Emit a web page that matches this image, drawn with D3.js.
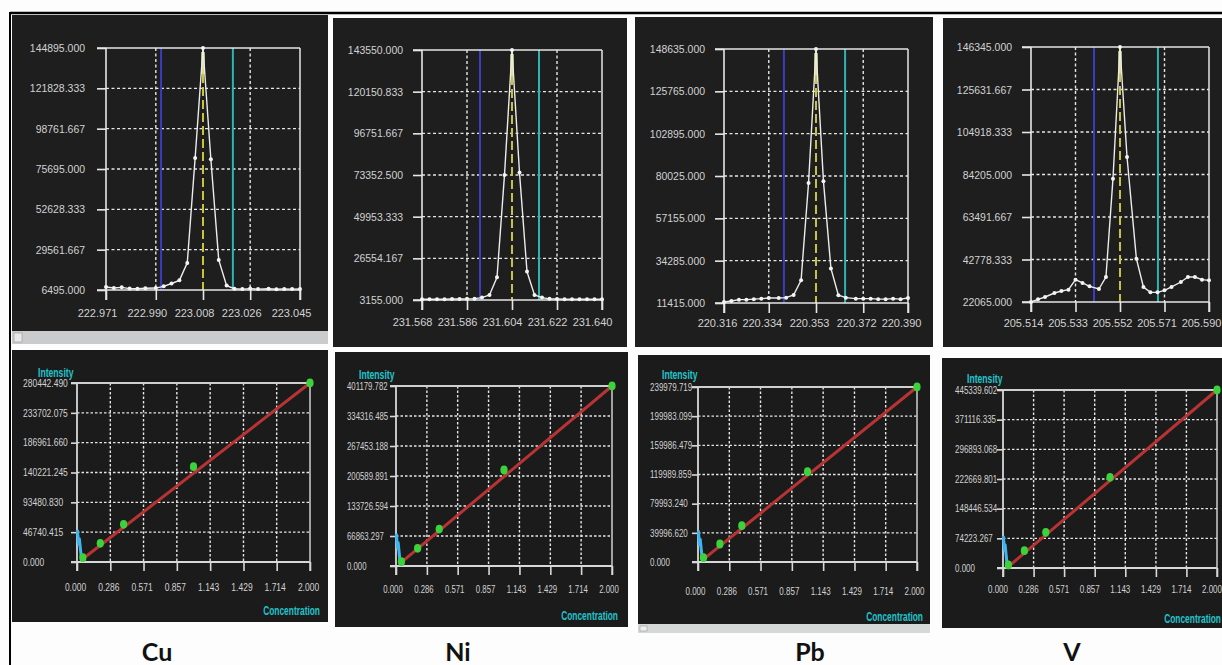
<!DOCTYPE html>
<html><head><meta charset="utf-8">
<script src="https://cdn.jsdelivr.net/npm/d3@7"></script>
<style>body{margin:0;background:#fff}svg{display:block}</style>
</head><body><svg id="c" width="1222" height="665"></svg>
<script>
// ---------- DATA ----------
const elements = ["Cu", "Ni", "Pb", "V"];

// Emission spectra (top row)
const cuWave = [222.971,222.974,222.977,222.980,222.983,222.986,222.990,222.993,222.996,222.999,223.002,223.005,223.008,223.011,223.014,223.017,223.020,223.023,223.026,223.029,223.033,223.036,223.039,223.042,223.045];
const cuSpec = [8200,7600,8000,7300,7200,7500,7600,8600,10200,12000,22000,82000,144895,81300,23700,9000,7200,7000,7300,7000,7200,6900,7100,7000,7100];
const cuWaveTicks = [222.971,222.990,223.008,223.026,223.045];
const cuSpecTicks = [6495,29561.667,52628.333,75695,98761.667,121828.333,144895];
const cuWindow = [222.992,223.0194];

const niWave = [231.568,231.571,231.574,231.577,231.580,231.583,231.586,231.589,231.592,231.595,231.598,231.601,231.604,231.607,231.610,231.613,231.616,231.619,231.622,231.625,231.628,231.631,231.634,231.637,231.640];
const niSpec = [3600,3600,3600,3600,3700,3700,3800,3900,4500,6000,15900,73400,143550,74700,19100,6000,4500,3800,3700,3600,3600,3600,3600,3600,3600];
const niWaveTicks = [231.568,231.586,231.604,231.622,231.640];
const niSpecTicks = [3155,26554.167,49953.333,73352.5,96751.667,120150.833,143550];
const niWindow = [231.5912,231.6148];

const pbWave = [220.316,220.319,220.322,220.325,220.328,220.331,220.334,220.338,220.341,220.344,220.347,220.350,220.353,220.356,220.359,220.362,220.365,220.369,220.372,220.375,220.378,220.381,220.384,220.387,220.390];
const pbSpec = [11960,12500,13225,13225,13500,13770,14130,14130,14310,15760,23720,76220,148635,77130,30060,15580,14310,13770,13770,13770,13500,13500,13770,13500,14130];
const pbWaveTicks = [220.316,220.334,220.353,220.372,220.390];
const pbSpecTicks = [11415,34285,57155,80025,102895,125765,148635];
const pbWindow = [220.3401,220.3647];

const vWave = [205.514,205.517,205.520,205.524,205.527,205.530,205.533,205.536,205.539,205.543,205.546,205.549,205.552,205.555,205.559,205.562,205.565,205.568,205.571,205.574,205.578,205.581,205.584,205.587,205.590];
const vSpec = [22065,23360,24500,26450,27430,28080,32950,31330,29700,28400,34250,82170,146345,92740,43180,29380,26780,26780,27750,29380,31810,34250,34250,32950,32620];
const vWaveTicks = [205.514,205.533,205.552,205.571,205.590];
const vSpecTicks = [22065,42778.333,63491.667,84205,104918.333,125631.667,146345];
const vWindow = [205.5409,205.5682];

// Calibration curves (bottom row)
const stdConc = [0.05, 0.2, 0.4, 1.0, 2.0];
const concTicks = [0, 0.286, 0.571, 0.857, 1.143, 1.429, 1.714, 2.000];
const cuInt = [6700, 29300, 59070, 149300, 280442.49];
const niInt = [9600, 39400, 82400, 214000, 401179.782];
const pbInt = [5900, 24700, 49800, 123800, 239979.719];
const vInt = [7500, 43300, 89300, 226900, 445339.602];
const cuIntTicks = [0, 46740.415, 93480.830, 140221.245, 186961.660, 233702.075, 280442.490];
const niIntTicks = [0, 66863.297, 133726.594, 200589.891, 267453.188, 334316.485, 401179.782];
const pbIntTicks = [0, 39996.620, 79993.240, 119989.859, 159986.479, 199983.099, 239979.719];
const vIntTicks = [0, 74223.267, 148446.534, 222669.801, 296893.068, 371116.335, 445339.602];
const cuFit = [[0.04, 3500], [2.0, 280442.49]];
const niFit = [[0.03, 4000], [2.0, 401179.782]];
const pbFit = [[0.04, 2500], [2.0, 239979.719]];
const vFit = [[0.05, 3500], [2.0, 445339.602]];
// cursor marker near origin (conc, fraction of axis max)
const cursorShape = [[0.003, 0.18], [0.014, 0.10], [0.02, 0.13], [0.038, 0.02]];

// ---------- DRAW ----------
const svg = d3.select('#c');
const LINE = '#e6e6e6';
const TXT = '#d2d2d2';
const CYAN = '#22c4cc';
const fmt3 = d3.format('.3f');
const SANS = "'Liberation Sans',Arial,sans-serif";

svg.append('rect').attr('x',0).attr('y',0).attr('width',1222).attr('height',665).attr('fill','#fdfdfd');

function hline(g, x1, x2, yv, stroke, w, dash) {
  const l = g.append('line').attr('x1',x1).attr('x2',x2).attr('y1',yv).attr('y2',yv)
    .attr('stroke',stroke).attr('stroke-width',w);
  if (dash) l.attr('stroke-dasharray',dash);
  return l;
}
function vline(g, xv, y1, y2, stroke, w, dash) {
  const l = g.append('line').attr('x1',xv).attr('x2',xv).attr('y1',y1).attr('y2',y2)
    .attr('stroke',stroke).attr('stroke-width',w);
  if (dash) l.attr('stroke-dasharray',dash);
  return l;
}

function drawSpectrum(p) {
  const g = svg.append('g');
  g.append('rect').attr('x',p.bg[0]).attr('y',p.bg[1]).attr('width',p.bg[2]-p.bg[0]).attr('height',p.bg[3]-p.bg[1]).attr('fill','#1e1e1e');
  if (p.strip) {
    g.append('rect').attr('x',p.bg[0]).attr('y',p.bg[3]).attr('width',p.bg[2]-p.bg[0]).attr('height',p.strip).attr('fill','#c9cbcc');
    g.append('rect').attr('x',p.bg[0]+2).attr('y',p.bg[3]+2).attr('width',8).attr('height',p.strip-4).attr('fill','#e8e8e8').attr('stroke','#999').attr('stroke-width',0.6);
  }
  const x = d3.scaleLinear().domain([p.wt[0], p.wt[p.wt.length-1]]).range([p.x0, p.x1]);
  const y = d3.scaleLinear().domain([p.yt[0], p.yt[p.yt.length-1]]).range([p.yb, p.ytop]);
  p.yt.slice(1,-1).forEach(v => hline(g, p.x0, p.x1, y(v), LINE, 1.4, '3,2.5'));
  [p.wt[1], p.wt[3]].forEach(v => vline(g, x(v), p.ytop, p.yb, LINE, 1.4, '3,2.5'));
  vline(g, x(p.win[0]), p.ytop, p.yb, '#3c3cc0', 2);
  vline(g, x(p.win[1]), p.ytop, p.yb, '#2eb4b4', 2);
  vline(g, x(p.wt[2]), p.ytop, p.yb, '#c9c23c', 2, '9,4');
  vline(g, x(p.wt[2]), p.ytop+4, p.ytop+26, '#d8dc80', 3.5);
  hline(g, p.x0-9, p.x1, p.ytop, LINE, 1.6);
  vline(g, p.x1, p.ytop, p.yb+10, LINE, 1.5);
  const ya = g.append('g').attr('transform', `translate(${p.x0},0)`)
    .call(d3.axisLeft(y).tickValues(p.yt).tickFormat(fmt3).tickSize(9).tickPadding(p.x0 - 9 - p.labelRight));
  const xa = g.append('g').attr('transform', `translate(0,${p.yb})`)
    .call(d3.axisBottom(x).tickValues(p.wt).tickFormat(fmt3).tickSize(10));
  [ya, xa].forEach(a => {
    a.select('.domain').attr('stroke', LINE).attr('stroke-width',1.6);
    a.selectAll('.tick line').attr('stroke', LINE).attr('stroke-width',1.6);
    a.selectAll('.tick text').attr('fill', TXT).attr('font-family', SANS).attr('font-size',11);
  });
  ya.select('.domain').attr('d', `M0,${p.ytop}V${p.yb+10}`);
  xa.select('.domain').attr('d', `M${p.x0-9},0H${p.x1}`);
  ya.selectAll('.tick text').attr('transform','scale(0.95,1)').attr('x', -(p.x0 - p.labelRight)/0.95);
  xa.selectAll('.tick text').attr('y', p.xLabelY - p.yb).attr('dy', 0).attr('dx', p.dx);
  const pts = p.w.map((w,i) => [w, p.s[i]]);
  g.append('path').datum(pts).attr('fill','none').attr('stroke','#ececec').attr('stroke-width',1.4)
    .attr('d', d3.line().x(d => x(d[0])).y(d => y(d[1])));
  g.selectAll('.pt').data(pts).join('circle').attr('cx', d => x(d[0])).attr('cy', d => y(d[1])).attr('r', 2).attr('fill','#f4f4f4');
}

function drawCalib(p) {
  const g = svg.append('g');
  g.append('rect').attr('x',p.bg[0]).attr('y',p.bg[1]).attr('width',p.bg[2]-p.bg[0]).attr('height',p.bg[3]-p.bg[1]).attr('fill','#1b1b1b');
  if (p.strip) {
    g.append('rect').attr('x',p.bg[0]).attr('y',p.bg[3]).attr('width',p.bg[2]-p.bg[0]).attr('height',p.strip).attr('fill','#d6d8d8');
    g.append('rect').attr('x',p.bg[0]+2).attr('y',p.bg[3]+2).attr('width',7).attr('height',p.strip-4).attr('fill','#eee').attr('stroke','#999').attr('stroke-width',0.6);
  }
  const K = p.k;
  const T = 6;
  const x = d3.scaleLinear().domain([concTicks[0], concTicks[concTicks.length-1]]).range([p.x0, p.x1]);
  const y = d3.scaleLinear().domain([p.yt[0], p.yt[p.yt.length-1]]).range([p.yb, p.ytop]);
  p.yt.slice(1,-1).forEach(v => hline(g, p.x0, p.x1, y(v), LINE, 1.4, '2.5,2'));
  concTicks.slice(1,-1).forEach(v => vline(g, x(v), p.ytop, p.yb, LINE, 1.4, '2.5,2'));
  hline(g, p.x0-T, p.x1, p.ytop, '#cfcfcf', 2);
  vline(g, p.x1, p.ytop, p.yb+9, '#cfcfcf', 1.5);
  const ya = g.append('g').attr('transform', `translate(${p.x0},0)`)
    .call(d3.axisLeft(y).tickValues(p.yt).tickFormat(fmt3).tickSize(T));
  const xa = g.append('g').attr('transform', `translate(0,${p.yb})`)
    .call(d3.axisBottom(x).tickValues(concTicks).tickFormat(fmt3).tickSize(9));
  [ya, xa].forEach(a => {
    a.select('.domain').attr('stroke', '#d8d8d8').attr('stroke-width',1.8);
    a.selectAll('.tick line').attr('stroke', '#d8d8d8').attr('stroke-width',1.6);
    a.selectAll('.tick text').attr('fill', TXT).attr('font-family', SANS).attr('font-size',10);
  });
  ya.select('.domain').attr('d', `M0,${p.ytop}V${p.yb+9}`);
  xa.select('.domain').attr('d', `M${p.x0-T},0H${p.x1}`);
  ya.selectAll('.tick text').attr('text-anchor','start').attr('transform', `scale(${K},1)`).attr('x', (p.labelLeft - p.x0)/K);
  xa.selectAll('.tick text').attr('transform', `scale(${K},1)`).attr('y', p.xLabelY - p.yb).attr('dy', 0).attr('dx', p.dx/K);
  const ymax = p.yt[p.yt.length-1];
  g.append('path').datum(cursorShape).attr('fill','none').attr('stroke','#3cb6f0').attr('stroke-width',3)
    .attr('stroke-linejoin','round')
    .attr('d', d3.line().x(d => x(d[0])).y(d => y(d[1]*ymax)));
  g.append('path').datum(p.fit).attr('fill','none').attr('stroke','#b83434').attr('stroke-width',3)
    .attr('d', d3.line().x(d => x(d[0])).y(d => y(d[1])));
  g.selectAll('.std').data(stdConc.map((c,i) => [c, p.ints[i]])).join('ellipse')
    .attr('cx', d => x(d[0])).attr('cy', d => y(d[1])).attr('rx', 3.6).attr('ry', 4.4).attr('fill','#3cd23c');
  g.append('text').attr('transform', `translate(${p.intPos[0]},${p.intPos[1]}) scale(0.72,1)`).text('Intensity')
    .attr('fill', CYAN).attr('font-family', SANS).attr('font-weight','bold').attr('font-size',12);
  g.append('text').attr('transform', `translate(${p.concPos[0]},${p.concPos[1]}) scale(0.7,1)`).text('Concentration').attr('text-anchor','end')
    .attr('fill', CYAN).attr('font-family', SANS).attr('font-weight','bold').attr('font-size',12);
}

drawSpectrum({bg:[12,15,328,331], strip:13, x0:106, x1:300, ytop:48, yb:290, labelRight:85, xLabelY:317, dx:-9,
  w:cuWave, s:cuSpec, wt:cuWaveTicks, yt:cuSpecTicks, win:cuWindow});
drawSpectrum({bg:[333,18,627,347], x0:422, x1:602, ytop:50, yb:300, labelRight:403, xLabelY:326, dx:-10,
  w:niWave, s:niSpec, wt:niWaveTicks, yt:niSpecTicks, win:niWindow});
drawSpectrum({bg:[635,17,933,347], x0:724, x1:908, ytop:49, yb:303, labelRight:705, xLabelY:327, dx:-7,
  w:pbWave, s:pbSpec, wt:pbWaveTicks, yt:pbSpecTicks, win:pbWindow});
drawSpectrum({bg:[943,18,1222,347], x0:1031, x1:1209, ytop:47, yb:302, labelRight:1012, xLabelY:327, dx:-8,
  w:vWave, s:vSpec, wt:vWaveTicks, yt:vSpecTicks, win:vWindow});

drawCalib({bg:[12,350,328,622], k:0.85, dx:-2, x0:77, x1:310, ytop:383, yb:562, labelLeft:23, xLabelY:591, intPos:[38,377], concPos:[320,615],
  yt:cuIntTicks, ints:cuInt, fit:cuFit});
drawCalib({bg:[335,352,628,627], k:0.78, dx:-3.5, x0:396, x1:612, ytop:386, yb:566, labelLeft:347, xLabelY:593, intPos:[359,379], concPos:[618,620],
  yt:niIntTicks, ints:niInt, fit:niFit});
drawCalib({bg:[638,355,930,624], k:0.8, dx:-3, strip:9, x0:698, x1:917, ytop:387, yb:562, labelLeft:650, xLabelY:595, intPos:[662,379], concPos:[923,621],
  yt:pbIntTicks, ints:pbInt, fit:pbFit});
drawCalib({bg:[942,358,1222,628], k:0.8, dx:-5.5, x0:1003, x1:1217, ytop:390, yb:568, labelLeft:955, xLabelY:593, intPos:[967,383], concPos:[1221,623],
  yt:vIntTicks, ints:vInt, fit:vFit});

// element captions
const capPos = {Cu:157, Ni:458, Pb:810, V:1072};
svg.selectAll('.cap').data(elements).join('text')
  .attr('x', d => capPos[d]).attr('y', 661).attr('text-anchor','middle')
  .attr('font-family', "Lato,'Open Sans',sans-serif").attr('font-weight','bold').attr('font-size',25).attr('fill','#111')
  .text(d => d);

// outer frame
svg.append('line').attr('x1',10).attr('x2',1222).attr('y1',13).attr('y2',13).attr('stroke','#000').attr('stroke-width',2.5);
svg.append('line').attr('x1',10).attr('x2',10).attr('y1',12).attr('y2',665).attr('stroke','#000').attr('stroke-width',2);
</script>
</body></html>
